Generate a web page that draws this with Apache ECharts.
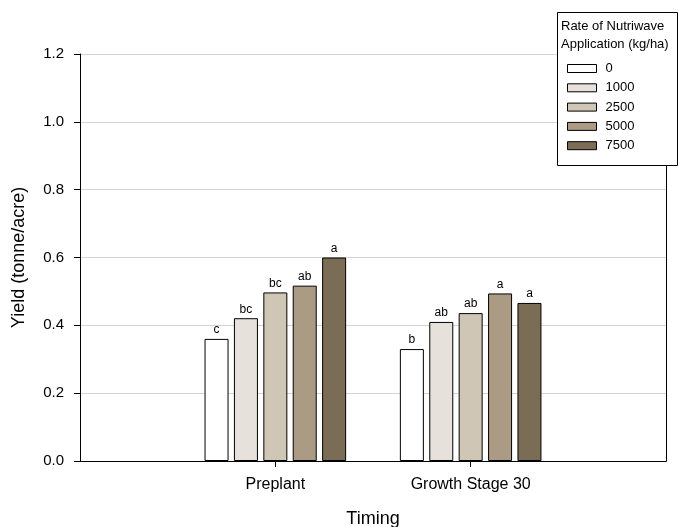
<!DOCTYPE html>
<html>
<head>
<meta charset="utf-8">
<script src="https://cdn.jsdelivr.net/npm/echarts@6/dist/echarts.min.js"></script>
<style>html,body{margin:0;padding:0;background:#fff}#c{width:678px;height:527px}</style>
</head>
<body>
<div id="c"></div>
<script>
const categories = ['Preplant', 'Growth Stage 30'];
const rates = ['0', '1000', '2500', '5000', '7500'];
const yieldValues = [
  [0.360, 0.330],
  [0.421, 0.410],
  [0.497, 0.436],
  [0.517, 0.494],
  [0.600, 0.466]
];
const letters = [
  ['c', 'b'],
  ['bc', 'ab'],
  ['bc', 'ab'],
  ['ab', 'a'],
  ['a', 'a']
];
const colors = ['#ffffff', '#e6e2db', '#d0c6b6', '#ab9b84', '#7b6d55'];
const yTicks = [0, 0.2, 0.4, 0.6, 0.8, 1.0, 1.2];
const legendTitle = ['Rate of Nutriwave', 'Application (kg/ha)'];

const FONT = 'Liberation Sans, Arial, sans-serif';
const axisCats = [' '].concat(categories, ['  ']);

const series = rates.map((r, i) => ({
  name: r,
  type: 'bar',
  barWidth: 24,
  barGap: '22.5%',
  data: [null].concat(yieldValues[i].map((v, j) => ({value: v, label: {formatter: letters[i][j]}})), [null]),
  itemStyle: {color: colors[i], borderColor: '#000', borderWidth: 1},
  label: {show: true, position: 'top', distance: 3, fontSize: 12, color: '#000', fontFamily: FONT},
  emphasis: {disabled: true}
}));

const chart = echarts.init(document.getElementById('c'), null, {renderer: 'canvas'});
chart.setOption({
  animation: false,
  backgroundColor: '#fff',
  grid: {left: 80, right: 12, top: 54, bottom: 66, show: false, containLabel: false, outerBoundsMode: 'none'},
  xAxis: [{
    type: 'category',
    data: axisCats,
    boundaryGap: false,
    z: 5,
    name: 'Timing',
    nameLocation: 'middle',
    nameGap: 49,
    nameTextStyle: {fontSize: 18, color: '#000', fontFamily: FONT},
    axisLine: {lineStyle: {color: '#000', width: 1}},
    axisTick: {show: true, length: 6, interval: (idx) => idx === 1 || idx === 2, lineStyle: {color: '#000'}},
    axisLabel: {fontSize: 16, color: '#000', margin: 16, fontFamily: FONT, interval: 0},
    splitLine: {show: false}
  }, {
    type: 'category',
    position: 'top',
    data: axisCats,
    boundaryGap: false,
    z: 5,
    axisLine: {lineStyle: {color: '#000', width: 1}},
    axisTick: {show: false},
    axisLabel: {show: false},
    splitLine: {show: false}
  }],
  yAxis: [{
    type: 'value',
    min: 0, max: 1.2, interval: 0.2,
    z: 1,
    name: 'Yield (tonne/acre)',
    nameLocation: 'middle',
    nameGap: 52,
    nameTextStyle: {fontSize: 18, color: '#000', fontFamily: FONT},
    axisLine: {show: true, lineStyle: {color: '#000', width: 1}},
    axisTick: {show: true, length: 6, lineStyle: {color: '#000'}},
    axisLabel: {fontSize: 15, color: '#000', margin: 16, fontFamily: FONT, formatter: v => yTicks.includes(+v.toFixed(1)) ? v.toFixed(1) : ''},
    splitLine: {show: true, lineStyle: {color: '#d4d4d4', width: 1}}
  }, {
    type: 'value',
    position: 'right',
    min: 0, max: 1.2, interval: 0.2,
    z: 5,
    axisLine: {show: true, lineStyle: {color: '#000', width: 1}},
    axisTick: {show: false},
    axisLabel: {show: false},
    splitLine: {show: false}
  }],
  legend: {
    orient: 'vertical',
    left: 567, top: 62,
    padding: 0,
    itemWidth: 29, itemHeight: 8, itemGap: 6.3,
    icon: 'rect',
    z: 20,
    data: rates,
    itemStyle: {borderColor: '#000', borderWidth: 1},
    textStyle: {fontSize: 13, color: '#000', fontFamily: FONT, padding: [0, 0, 0, 4]},
    selectedMode: false
  },
  graphic: [
    {type: 'rect', z: 15, shape: {x: 557.5, y: 12.5, width: 120, height: 153}, style: {fill: '#fff', stroke: '#000', lineWidth: 1}},
    {type: 'text', z: 16, left: 561, top: 20, style: {text: legendTitle[0], font: '13px ' + FONT, fill: '#000'}},
    {type: 'text', z: 16, left: 561, top: 38, style: {text: legendTitle[1], font: '13px ' + FONT, fill: '#000'}}
  ],
  series: series
});
</script>
</body>
</html>
